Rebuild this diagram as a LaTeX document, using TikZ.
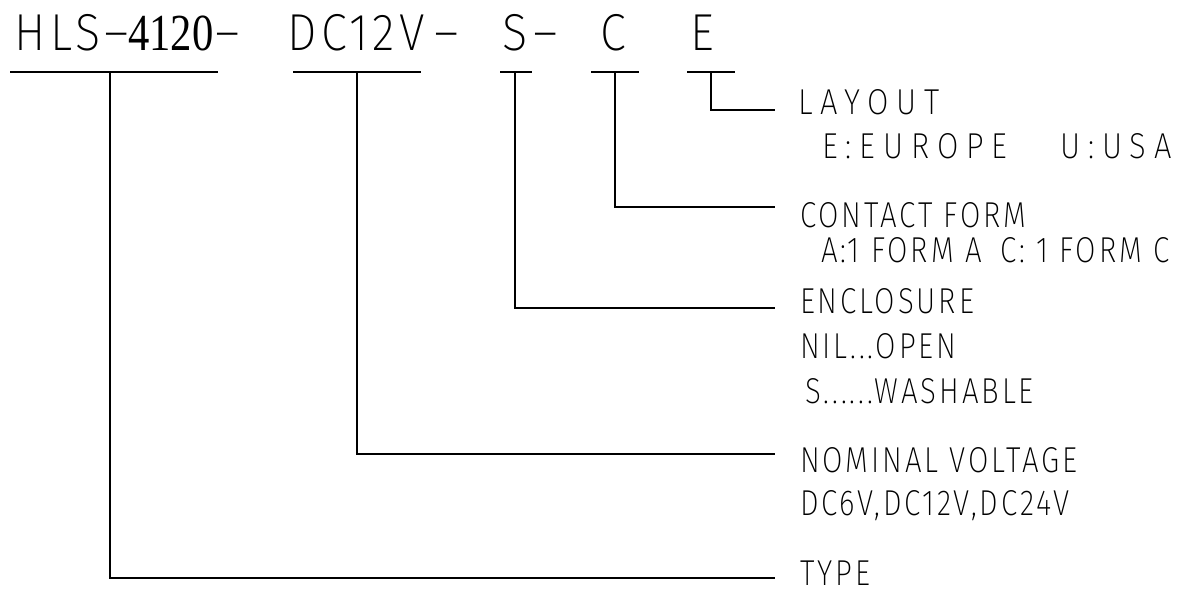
\documentclass[tikz,border=0pt]{standalone}
\usepackage{fontspec}
\setmainfont{Fira Sans ExtraLight}[FakeStretch=0.82,LetterSpace=8]
\newfontfamily\codefont{Fira Sans ExtraLight}[FakeStretch=0.9,LetterSpace=9]
\newfontfamily\widefont{Fira Sans ExtraLight}[FakeStretch=0.86,LetterSpace=22]
\newfontfamily\numfont{Liberation Serif}
\usepackage{tikz}
\usetikzlibrary{positioning}

\tikzset{
  lead/.style={line width=1.4pt,black},
  codetext/.style={anchor=base west,inner sep=0pt,font=\fontsize{52}{52}\codefont},
  desc/.style={anchor=base west,inner sep=0pt,font=\fontsize{36}{36}\selectfont},
  widedesc/.style={desc,font=\fontsize{36}{36}\widefont},
}

\begin{document}
\begin{tikzpicture}[x=1pt,y=-1pt]
  \useasboundingbox (0,0) rectangle (1181,592);

  % part number
  \node[codetext] (hls) at (14,50) {HLS};
  \node[codetext] (dash1) at (104,50) {–};
  \node[codetext] (num) at (128,50) {\scalebox{0.82}[1]{\numfont 4120}};
  \node[codetext] (dash2) at (215,50) {–};
  \node[codetext] (volt) at (287,50) {DC12V};
  \node[codetext] (dash3) at (434,50) {–};
  \node[codetext] (encl) at (502,50) {S};
  \node[codetext] (dash4) at (533,50) {–};
  \node[codetext] (cont) at (600,50) {C};
  \node[codetext] (lay) at (690,50) {E};

  % underlines, tap points in the middle
  \coordinate (tHLS) at (110,72);
  \coordinate (tVOLT) at (357,72);
  \coordinate (tENCL) at (515,72);
  \coordinate (tCONT) at (615,72);
  \coordinate (tLAY) at (711,72);
  \draw[lead] (10,72) -- (218,72);
  \draw[lead] (293,72) -- (421,72);
  \draw[lead] (500,72) -- (532,72);
  \draw[lead] (591,72) -- (639,72);
  \draw[lead] (687,72) -- (735,72);

  % leader ends
  \coordinate (eLAY) at (775,110);
  \coordinate (eCONT) at (775,207);
  \coordinate (eENCL) at (775,308);
  \coordinate (eVOLT) at (775,454);
  \coordinate (eHLS) at (775,578);
  \draw[lead] (tLAY) |- (eLAY);
  \draw[lead] (tCONT) |- (eCONT);
  \draw[lead] (tENCL) |- (eENCL);
  \draw[lead] (tVOLT) |- (eVOLT);
  \draw[lead] (tHLS) |- (eHLS);

  % descriptions
  \node[widedesc] (layout) at (798,114) {LAYOUT};
  \node[widedesc] (europe) at (822,158) {E:EUROPE};
  \node[widedesc] (usa) at (1060,158) {U:USA};
  \node[desc] (contact) at (800,227) {CONTACT FORM};
  \node[desc] (forma) at (821,262) {A:1 FORM A};
  \node[desc] (formc) at (1000,262) {C: 1 FORM C};
  \node[desc] (enclosure) at (800,313) {ENCLOSURE};
  \node[desc] (open) at (800,358) {NIL...OPEN};
  \node[desc] (wash) at (805,403) {S......WASHABLE};
  \node[desc] (nominal) at (800,472) {NOMINAL VOLTAGE};
  \node[desc] (volts) at (800,515) {DC6V,DC12V,DC24V};
  \node[desc] (type) at (800,585) {TYPE};
\end{tikzpicture}
\end{document}
